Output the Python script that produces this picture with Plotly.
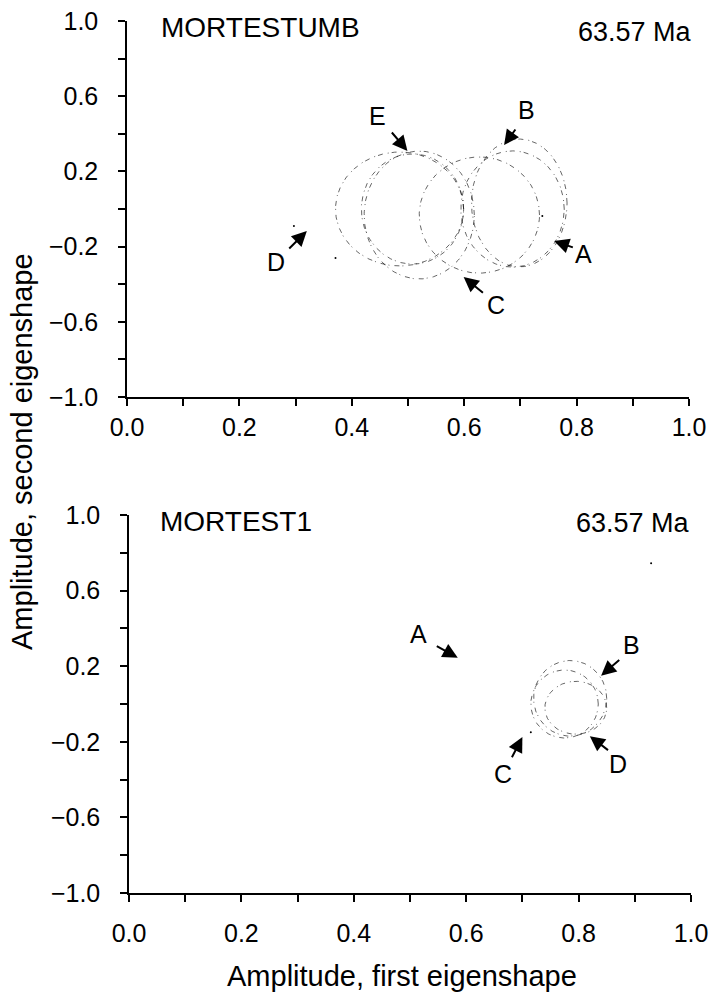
import numpy as np
import plotly.graph_objects as go

# ---------------- data ----------------
x_ticks = [0.0, 0.1, 0.2, 0.3, 0.4, 0.5, 0.6, 0.7, 0.8, 0.9, 1.0]
x_ticktext = ["0.0", "", "0.2", "", "0.4", "", "0.6", "", "0.8", "", "1.0"]
y_ticks = [-1.0, -0.8, -0.6, -0.4, -0.2, 0.0, 0.2, 0.4, 0.6, 0.8, 1.0]
y_ticktext = ["\u22121.0", "", "\u22120.6", "", "\u22120.2", "", "0.2", "", "0.6", "", "1.0"]

# outlines of specimens (centre x, centre y, half-width, half-height)
top_cx = [0.485, 0.508, 0.520, 0.686, 0.698, 0.627]
top_cy = [0.000, 0.000, -0.032, 0.000, 0.032, -0.032]
top_rx = [0.114, 0.091, 0.098, 0.092, 0.085, 0.107]
top_ry = [0.303, 0.293, 0.340, 0.309, 0.340, 0.309]

bot_cx = [0.785, 0.795, 0.775]
bot_cy = [0.030, -0.020, 0.000]
bot_rx = [0.065, 0.055, 0.060]
bot_ry = [0.200, 0.140, 0.180]

# small specks
top_dot_x = [0.297, 0.371, 0.739]
top_dot_y = [-0.090, -0.260, -0.037]
bot_dot_x = [0.929, 0.715]
bot_dot_y = [0.745, -0.150]

# letter labels and arrows: label pos, arrow tail, arrow tip
top_lab = ["E", "B", "A", "C", "D"]
top_lab_x = [0.446, 0.710, 0.813, 0.657, 0.266]
top_lab_y = [0.495, 0.527, -0.239, -0.511, -0.282]
top_tail_x = [0.469, 0.693, 0.796, 0.636, 0.286]
top_tail_y = [0.415, 0.431, -0.207, -0.452, -0.218]
top_tip_x = [0.499, 0.671, 0.760, 0.599, 0.320]
top_tip_y = [0.309, 0.340, -0.170, -0.362, -0.117]

bot_lab = ["A", "B", "C", "D"]
bot_lab_x = [0.515, 0.895, 0.665, 0.870]
bot_lab_y = [0.370, 0.310, -0.370, -0.320]
bot_tail_x = [0.545, 0.875, 0.680, 0.855]
bot_tail_y = [0.310, 0.240, -0.290, -0.250]
bot_tip_x = [0.585, 0.840, 0.700, 0.820]
bot_tip_y = [0.245, 0.150, -0.175, -0.170]

panel_names = ["MORTESTUMB", "MORTEST1"]
panel_age = ["63.57 Ma", "63.57 Ma"]

x_title = "Amplitude, first eigenshape"
y_title = "Amplitude, second eigenshape"

FONT = "Liberation Sans, Arial, sans-serif"
W, H = 714, 992

fig = go.Figure()

t = np.linspace(0, 2 * np.pi, 241)


def add_outlines(cx, cy, rx, ry, xa, ya):
    for a, b, c, d in zip(cx, cy, rx, ry):
        fig.add_trace(go.Scatter(
            x=a + c * np.cos(t), y=b + d * np.sin(t), mode="lines",
            line=dict(color="rgba(0,0,0,0.6)", width=1, dash="5px,3px,1px,5px"),
            xaxis=xa, yaxis=ya, showlegend=False, hoverinfo="skip"))


add_outlines(top_cx, top_cy, top_rx, top_ry, "x", "y")
add_outlines(bot_cx, bot_cy, bot_rx, bot_ry, "x2", "y2")
fig.add_trace(go.Scatter(x=top_dot_x, y=top_dot_y, mode="markers",
                         marker=dict(size=2, color="black"), xaxis="x", yaxis="y",
                         showlegend=False, hoverinfo="skip"))
fig.add_trace(go.Scatter(x=bot_dot_x, y=bot_dot_y, mode="markers",
                         marker=dict(size=2, color="black"), xaxis="x2", yaxis="y2",
                         showlegend=False, hoverinfo="skip"))

ann = []


def add_labels(labs, lx, ly, tx, ty, px, py, xr, yr):
    for s, a, b, c, d, e, f in zip(labs, lx, ly, tx, ty, px, py):
        ann.append(dict(x=a, y=b, xref=xr, yref=yr, text=s, showarrow=False,
                        font=dict(family=FONT, size=25, color="black")))
        ann.append(dict(x=e, y=f, ax=c, ay=d, xref=xr, yref=yr, axref=xr, ayref=yr,
                        text="", showarrow=True, arrowhead=2, arrowsize=1.5,
                        arrowwidth=2, arrowcolor="black", standoff=0))


add_labels(top_lab, top_lab_x, top_lab_y, top_tail_x, top_tail_y, top_tip_x, top_tip_y, "x", "y")
add_labels(bot_lab, bot_lab_x, bot_lab_y, bot_tail_x, bot_tail_y, bot_tip_x, bot_tip_y, "x2", "y2")

# panel titles (paper coordinates)
for (nx, ny, axx, ayy), nm, ag in zip(
        [(159 / W, 1 - 28 / H, 694 / W, 1 - 32 / H),
         (158 / W, 1 - 521 / H, 692 / W, 1 - 523 / H)],
        panel_names, panel_age):
    ann.append(dict(x=nx, y=ny, xref="paper", yref="paper", text=nm, showarrow=False,
                    xanchor="left", yanchor="middle",
                    font=dict(family=FONT, size=28, color="black")))
    ann.append(dict(x=axx, y=ayy, xref="paper", yref="paper", text=ag, showarrow=False,
                    xanchor="right", yanchor="middle",
                    font=dict(family=FONT, size=27, color="black")))

ann.append(dict(x=402 / W, y=1 - 976 / H, xref="paper", yref="paper", text=x_title,
                showarrow=False, yanchor="middle",
                font=dict(family=FONT, size=29, color="black")))
ann.append(dict(x=22 / W, y=1 - 452 / H, xref="paper", yref="paper", text=y_title,
                showarrow=False, textangle=-90, xanchor="center", yanchor="middle",
                font=dict(family=FONT, size=29, color="black")))

axis_common = dict(showline=True, linecolor="black", linewidth=1.5, ticks="outside",
                   ticklen=7, tickwidth=1.5, tickcolor="black", showgrid=False,
                   zeroline=False, automargin=False, ticklabeloverflow="allow",
                   tickfont=dict(family=FONT, size=25, color="black"))

fig.update_layout(
    template="none",
    width=W, height=H, autosize=False,
    margin=dict(l=0, r=0, t=0, b=0, pad=0),
    paper_bgcolor="white", plot_bgcolor="white",
    showlegend=False,
    annotations=ann,
    xaxis=dict(domain=[127 / W, 689 / W], range=[0, 1], tickvals=x_ticks,
               ticktext=x_ticktext, anchor="y", ticklabelstandoff=0, **axis_common),
    yaxis=dict(domain=[1 - 397 / H, 1 - 21 / H], range=[-1, 1], tickvals=y_ticks,
               ticktext=y_ticktext, anchor="x", ticklabelstandoff=15, **axis_common),
    xaxis2=dict(domain=[129 / W, 691 / W], range=[0, 1], tickvals=x_ticks,
                ticktext=x_ticktext, anchor="y2", ticklabelstandoff=10, **axis_common),
    yaxis2=dict(domain=[1 - 893 / H, 1 - 515 / H], range=[-1, 1], tickvals=y_ticks,
                ticktext=y_ticktext, anchor="x2", ticklabelstandoff=15, **axis_common),
)

# longer reference ticks at x=0.5, x=1.0 and y=0
shapes = []
for xr, yr in [("x", "y"), ("x2", "y2")]:
    for xv in [x_ticks[5], x_ticks[10]]:
        shapes.append(dict(type="line", xref=xr, yref=yr, x0=xv, x1=xv,
                           ysizemode="pixel", yanchor=y_ticks[0], y0=0, y1=-15,
                           line=dict(color="black", width=1.5)))
    shapes.append(dict(type="line", xref=xr, yref=yr, y0=y_ticks[5], y1=y_ticks[5],
                       xsizemode="pixel", xanchor=x_ticks[0], x0=0, x1=-17,
                       line=dict(color="black", width=1.5)))
fig.update_layout(shapes=shapes)

# remove the default page margin so the 714x992 figure fills the window exactly
fig.write_html("out.html",
               config={"displayModeBar": False},
               post_script="document.body.style.margin='0px';"
                           "document.body.style.overflow='hidden';")
